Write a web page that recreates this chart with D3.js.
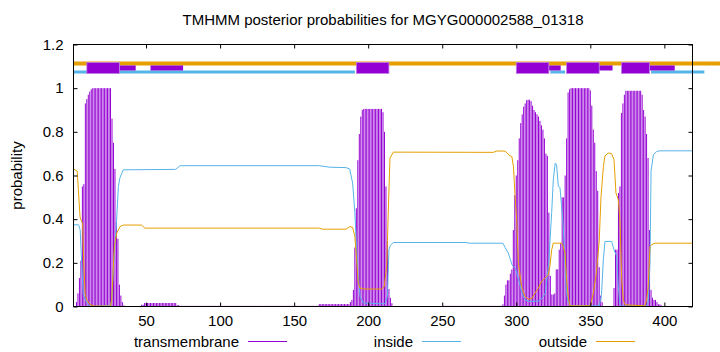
<!DOCTYPE html>
<html>
<meta charset="utf-8">
<head>
<style>
body { margin: 0; background: #fff; }
svg text { font-family: "Liberation Sans", Arial, sans-serif; font-size: 15px; fill: #000; }
.tick line { stroke: #000; }
path.domain { display: none; }
</style>
</head>
<body>
<svg width="720" height="352"></svg>
<script src="https://d3js.org/d3.v7.min.js"></script>
<script>

// x ticks, y ticks
var xTicks = [50, 100, 150, 200, 250, 300, 350, 400];
var yTicks = [0, 0.2, 0.4, 0.6, 0.8, 1, 1.2];
var seqLength = 419;

// transmembrane posterior, per residue
var tmPeakStarts = [3, 188, 291, 336, 366];
var tmPeak1 = [0.02, 0.06, 0.13, 0.21, 0.55, 0.56, 0.93, 0.95, 0.97, 0.985, 0.995,
  1, 1, 1, 1, 1, 1, 1, 1, 1, 1, 1, 1, 1,
  0.86, 0.75, 0.63, 0.385, 0.31, 0.1, 0.05, 0.02, 0.005];
var tmPeak2 = [0.02, 0.03, 0.076, 0.27, 0.45, 0.67, 0.79, 0.87, 0.9,
  0.905, 0.905, 0.905, 0.905, 0.905, 0.905, 0.905, 0.905, 0.905, 0.905, 0.905, 0.905, 0.905,
  0.89, 0.8, 0.55, 0.3, 0.08, 0.04, 0.015];
var tmPeak3 = [0.01, 0.05, 0.1, 0.12, 0.12, 0.15, 0.17, 0.35, 0.51, 0.6, 0.67, 0.77, 0.84, 0.88,
  0.915, 0.93, 0.945, 0.947, 0.947, 0.94, 0.92, 0.9, 0.89, 0.88, 0.87, 0.85, 0.83, 0.81, 0.77,
  0.7, 0.69, 0.43, 0.14, 0.055, 0.055, 0.06, 0.17, 0.17, 0.26, 0.29, 0.5, 0.5, 0.6, 0.77, 0.98];
var tmPeak4 = [0.995, 1, 1, 1, 1, 1, 1, 1, 1, 1, 1, 1, 1, 1,
  0.99, 0.92, 0.81, 0.75, 0.62, 0.53, 0.18, 0.05, 0.02];
var tmPeak5 = [0.085, 0.26, 0.26, 0.52, 0.55, 0.886, 0.93, 0.97,
  0.988, 0.988, 0.988, 0.988, 0.988, 0.988, 0.988, 0.988, 0.988, 0.988, 0.988,
  0.97, 0.9, 0.87, 0.79, 0.68, 0.35, 0.076, 0.04, 0.03, 0.03, 0.02, 0.01, 0.01, 0.005];
// flat low stretches: [from, to, prob]
var tmLowRuns = [[36, 46, 0.002], [47, 48, 0.008], [49, 70, 0.016], [71, 72, 0.006],
  [73, 166, 0.003], [167, 187, 0.011], [217, 250, 0.001], [251, 290, 0.003], [399, 419, 0.001]];

// inside / outside curves: [residue, prob]
var insideProb = [[1, 0.374], [4.5, 0.374], [5.5, 0.35], [6.5, 0.2], [7.5, 0.06], [9, 0.03],
  [11, 0.005], [13, 0], [26, 0.005], [27, 0.04], [28, 0.18], [30, 0.38], [31.3, 0.55],
  [32.4, 0.59], [34.6, 0.626], [70, 0.628], [73, 0.645], [167, 0.645], [174, 0.638],
  [185, 0.636], [187.5, 0.63], [189.5, 0.565], [191, 0.43], [192.2, 0.26], [193.3, 0.137],
  [194.5, 0.046], [196.7, 0.016], [211.3, 0.012], [213, 0.046], [214, 0.26], [215, 0.28],
  [217, 0.293], [266, 0.293], [268, 0.29], [291, 0.29], [292.5, 0.27], [294.6, 0.245],
  [297.2, 0.19], [299.4, 0.175], [301.7, 0.12], [303.9, 0.06], [306, 0.03], [308.4, 0.023],
  [315, 0.025], [317.4, 0.038], [319.6, 0.06], [321.9, 0.2], [323.9, 0.43], [325, 0.58],
  [326.3, 0.657], [327.2, 0.65], [328.4, 0.55], [329.5, 0.545], [330.6, 0.46], [331.7, 0.37],
  [332.9, 0.2], [334, 0.06], [335.1, 0.017], [337, 0.003], [356, 0.003], [357.5, 0.05],
  [358.8, 0.214], [359.9, 0.298], [364.4, 0.298], [366, 0.26], [367.8, 0.23], [368.9, 0.09],
  [370, 0.01], [371, 0.002], [388, 0.002], [389.1, 0.02], [390.3, 0.2], [391, 0.62],
  [392.6, 0.695], [394.8, 0.71], [397, 0.713], [419, 0.713]];
var outsideProb = [[1, 0.63], [3.5, 0.62], [4.3, 0.535], [5.4, 0.41], [6.5, 0.39], [7.2, 0.38],
  [7.7, 0.245], [8.8, 0.06], [9.9, 0.03], [12, 0.01], [15, 0.002], [26, 0.002], [26.8, 0.03],
  [28.6, 0.275], [30.2, 0.336], [32.4, 0.366], [34.6, 0.373], [47, 0.373], [49.2, 0.359],
  [167, 0.359], [169, 0.354], [185, 0.354], [187.6, 0.366], [189.5, 0.362], [191, 0.32],
  [192.2, 0.214], [193.3, 0.107], [194.5, 0.084], [197.9, 0.08], [209.1, 0.08], [210.8, 0.09],
  [212.5, 0.183], [213.6, 0.443], [214.7, 0.68], [217, 0.707], [284.5, 0.706], [286.8, 0.712],
  [292.4, 0.712], [295.8, 0.69], [297, 0.687], [298.1, 0.64], [299.2, 0.504], [300.3, 0.397],
  [301.4, 0.2], [303.6, 0.092], [305.9, 0.046], [308.1, 0.034], [310.4, 0.036], [312.6, 0.061],
  [314.9, 0.084], [317.1, 0.115], [319.4, 0.13], [321.6, 0.145], [322.7, 0.183], [323.9, 0.26],
  [325, 0.29], [330.6, 0.29], [331.7, 0.275], [332.9, 0.245], [334, 0.122], [335.1, 0.046],
  [336.2, 0.003], [350, 0.003], [352, 0.06], [354, 0.15], [356, 0.3], [357.2, 0.5],
  [358.8, 0.64], [359.9, 0.69], [362.1, 0.703], [364.4, 0.7], [366, 0.672], [367.3, 0.52],
  [368.9, 0.489], [370, 0.397], [371.2, 0.122], [372.3, 0.03], [373.4, 0.008], [386.9, 0.003],
  [388, 0.03], [389.1, 0.092], [390.3, 0.275], [391.4, 0.283], [393.6, 0.29], [419, 0.29]];

// topology bars along the top: [from, to]
var outsideBars = [[1, 440]];
var insideBars = [[1, 191], [323, 333], [391, 427]];
var helixBars = [[10, 32], [192, 214], [300, 322], [334, 356], [371, 390]];
var helixTailBars = [[32, 43], [53, 75], [322, 330], [356, 365], [390, 407]];

var seriesNames = ["transmembrane", "inside", "outside"];
var seriesColors = ["#9400d3", "#56b4e9", "#e69f00"];

var svg = d3.select("svg"),
  margin = {top: 44.5, right: 27.5, bottom: 45.5, left: 73.5},
  width = +svg.attr("width"),
  height = +svg.attr("height");

var x = d3.scaleLinear().domain([1, seqLength]).range([margin.left, width - margin.right]);
var y = d3.scaleLinear().domain([0, 1.2]).range([height - margin.bottom, margin.top]);

// build the impulse list
var tm = [];
[tmPeak1, tmPeak2, tmPeak3, tmPeak4, tmPeak5].forEach(function(arr, k) {
  arr.forEach(function(v, i) { tm.push([tmPeakStarts[k] + i, v]); });
});
tmLowRuns.forEach(function(r) {
  for (var i = r[0]; i <= r[1]; i++) tm.push([i, r[2]]);
});

svg.append("clipPath").attr("id", "plotclip")
  .append("rect")
  .attr("x", x.range()[0]).attr("y", y.range()[1])
  .attr("width", x.range()[1] - x.range()[0])
  .attr("height", y.range()[0] - y.range()[1]);

var plot = svg.append("g").attr("clip-path", "url(#plotclip)");

plot.append("g").selectAll("line")
  .data(tm).enter().append("line")
  .attr("x1", function(d) { return x(d[0]); })
  .attr("x2", function(d) { return x(d[0]); })
  .attr("y1", y(0))
  .attr("y2", function(d) { return y(d[1]); })
  .attr("stroke", seriesColors[0])
  .attr("stroke-width", 1);

var line = d3.line()
  .x(function(d) { return x(d[0]); })
  .y(function(d) { return y(d[1]); });

plot.append("path").datum(insideProb)
  .attr("d", line).attr("fill", "none")
  .attr("stroke", seriesColors[1]).attr("stroke-width", 1);

plot.append("path").datum(outsideProb)
  .attr("d", line).attr("fill", "none")
  .attr("stroke", seriesColors[2]).attr("stroke-width", 1);

// topology bars (not clipped, like gnuplot arrows)
var bars = svg.append("g");
bars.selectAll("line.out").data(outsideBars).enter().append("line")
  .attr("x1", function(d) { return x(d[0]); })
  .attr("x2", function(d) { return x(d[1]); })
  .attr("y1", y(1.113)).attr("y2", y(1.113))
  .attr("stroke", seriesColors[2]).attr("stroke-width", 4);
bars.selectAll("line.in").data(insideBars).enter().append("line")
  .attr("x1", function(d) { return x(d[0]); })
  .attr("x2", function(d) { return x(d[1]); })
  .attr("y1", y(1.074)).attr("y2", y(1.074))
  .attr("stroke", seriesColors[1]).attr("stroke-width", 3);
bars.selectAll("rect.tail").data(helixTailBars).enter().append("rect")
  .attr("x", function(d) { return x(d[0]); })
  .attr("width", function(d) { return x(d[1]) - x(d[0]); })
  .attr("y", y(1.0925) - 2.5).attr("height", 5)
  .attr("fill", seriesColors[0]);
bars.selectAll("rect.helix").data(helixBars).enter().append("rect")
  .attr("x", function(d) { return x(d[0]); })
  .attr("width", function(d) { return x(d[1]) - x(d[0]); })
  .attr("y", y(1.0925) - 5.5).attr("height", 11)
  .attr("fill", seriesColors[0])
  .attr("stroke", "#c080e8").attr("stroke-width", 0.8);

// axes, ticks inward and mirrored
var fmt = function(d) { return d3.format("")(+d.toFixed(1)); };
svg.append("g")
  .attr("transform", "translate(0," + y(0) + ")")
  .call(d3.axisBottom(x).tickValues(xTicks).tickSize(-4).tickPadding(9).tickFormat(d3.format("d")));
svg.append("g")
  .attr("transform", "translate(0," + y(1.2) + ")")
  .call(d3.axisTop(x).tickValues(xTicks).tickSize(-4).tickFormat(""));
svg.append("g")
  .attr("transform", "translate(" + x(1) + ",0)")
  .call(d3.axisLeft(y).tickValues(yTicks).tickSize(-4).tickPadding(10).tickFormat(fmt));
svg.append("g")
  .attr("transform", "translate(" + x(seqLength) + ",0)")
  .call(d3.axisRight(y).tickValues(yTicks).tickSize(-4).tickFormat(""));

svg.selectAll(".tick text").style("font-size", "15px").style("font-family", "'Liberation Sans', Arial, sans-serif");

svg.append("rect")
  .attr("x", x(1)).attr("y", y(1.2))
  .attr("width", x(seqLength) - x(1))
  .attr("height", y(0) - y(1.2))
  .attr("fill", "none").attr("stroke", "#000").attr("stroke-width", 1);

// titles
svg.append("text")
  .attr("x", (x(1) + x(seqLength)) / 2).attr("y", 25)
  .attr("text-anchor", "middle")
  .text("TMHMM posterior probabilities for MGYG000002588_01318");

svg.append("text")
  .attr("transform", "translate(22," + ((y(0) + y(1.2)) / 2) + ") rotate(-90)")
  .attr("text-anchor", "middle")
  .text("probability");

// legend
var legendRight = [239, 413, 587];
var legend = svg.append("g").selectAll("g")
  .data(seriesNames).enter().append("g")
  .attr("transform", function(d, i) { return "translate(" + legendRight[i] + ",346.5)"; });
legend.append("text").attr("text-anchor", "end").text(function(d) { return d; });
legend.append("line")
  .attr("x1", 9).attr("x2", 48).attr("y1", -5).attr("y2", -5)
  .attr("stroke", function(d, i) { return seriesColors[i]; })
  .attr("stroke-width", 1);

</script>
</body>
</html>
